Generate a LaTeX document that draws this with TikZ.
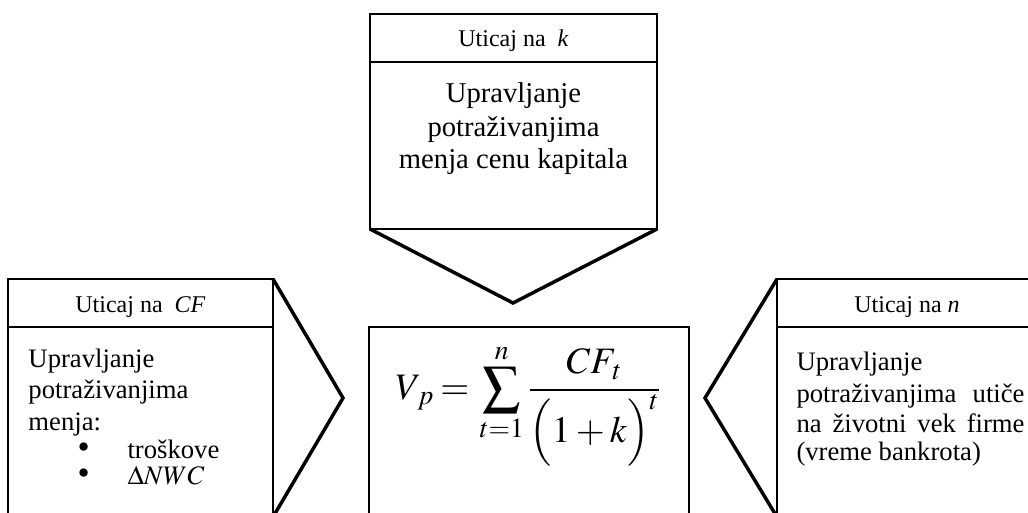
\documentclass[tikz,border=0pt]{standalone}
\usepackage{mathptmx}
\usepackage[no-math]{fontspec}
\setmainfont{Liberation Serif}
\newfontfamily\tnr{Liberation Serif}
\usetikzlibrary{positioning}
\tikzset{every picture/.style={line width=0.75pt}}
\tikzset{
  box/.style={line width=1.5},
  chevron/.style={line width=2.6,line join=miter},
  head/.style={font=\tnr\fontsize{18}{21}\selectfont,anchor=base},
  body/.style={font=\tnr\fontsize{20}{24}\selectfont,anchor=base west,inner sep=0pt},
  bigbody/.style={font=\tnr\fontsize{21.5}{25}\selectfont,anchor=base,inner sep=0pt},
  dot/.style={font=\tnr\fontsize{26}{24}\selectfont,anchor=base west,inner sep=0pt}
}

\begin{document}
\begin{tikzpicture}[x=0.75pt,y=0.75pt,yscale=-1,xscale=1]
\useasboundingbox (0,0) rectangle (1028,513);

%Shape: Rectangle [top box, k]
\coordinate (knw) at (370,14);
\coordinate (kse) at (657,229);
\draw [box] (knw) rectangle (kse);
\draw [box] (370,62) -- (657,62);
%Shape: Chevron down
\coordinate (ktip) at (513,303);
\draw [chevron] (knw |- kse) -- (ktip) -- (kse);

%Shape: Rectangle [left box, CF]
\coordinate (cfnw) at (8,279);
\coordinate (cfse) at (273,530);
\draw [box] (cfnw) rectangle (cfse);
\draw [box] (8,327) -- (273,327);
%Shape: Chevron right
\coordinate (cftip) at (343,398);
\draw [chevron] (cfse |- cfnw) -- (cftip) -- (273,517);

%Shape: Rectangle [center box, formula]
\coordinate (vpnw) at (369,327);
\coordinate (vpse) at (689,530);
\draw [box] (vpnw) rectangle (vpse);

%Shape: Rectangle [right box, n]
\coordinate (nnw) at (777,279);
\coordinate (nse) at (1037,530);
\draw [box] (nnw) rectangle (nse);
\draw [box] (777,327) -- (1037,327);
%Shape: Chevron left
\coordinate (ntip) at (705,398);
\draw [chevron] (nnw) -- (ntip) -- (777,517);

% Text Node
\draw (513.5,47) node [head] (hk) {Uticaj na \ \textit{k}};
% Text Node
\draw (513.5,103) node [bigbody] (tk1) {Upravljanje};
\draw (513.5,137) node [bigbody] (tk2) {potraživanjima};
\draw (513.5,169) node [bigbody] (tk3) {menja cenu kapitala};

% Text Node
\draw (140.5,312) node [head] (hcf) {Uticaj na \ \textit{CF}};
% Text Node
\draw (28,367) node [body] (tcf1) {Upravljanje};
\draw (28,398) node [body] (tcf2) {potraživanjima};
\draw (28,430) node [body] (tcf3) {menja:};
\draw (77,458) node [dot] (dcf1) {•};
\draw (127,458) node [body] (tcf4) {troškove};
\draw (77,484) node [dot] (dcf2) {•};
\draw (127,484) node [body] (tcf5) {$\Delta NWC$};

% Text Node
\draw (907,312) node [head] (hn) {Uticaj na \textit{n}};
% Text Node
\draw (796,370) node [body] (tn1) {Upravljanje};
\draw (796,402) node [body,text width=171pt,align=left] (tn2) {potraživanjima\hfill utiče};
\draw (796,432) node [body,text width=171pt,align=left] (tn3) {na\hfill životni\hfill vek\hfill firme};
\draw (796,460) node [body] (tn4) {(vreme bankrota)};

% Text Node
\draw (528,405) node [font=\fontsize{28}{34}\selectfont] (vp) {$\displaystyle V_{\,p}\mskip3mu{=}\mskip3mu\sum_{t=1}^{n}\frac{CF_{\,t}}{\Bigl(1+k\Bigr)^{t}}$};

\end{tikzpicture}
\end{document}
